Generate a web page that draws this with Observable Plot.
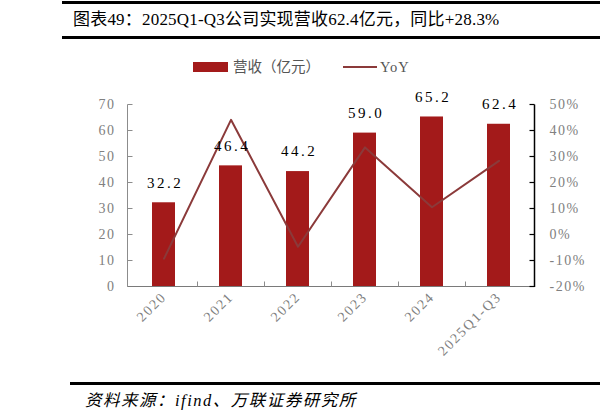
<!DOCTYPE html>
<html><head><meta charset="utf-8">
<script src="https://cdn.jsdelivr.net/npm/d3@7"></script>
<script src="https://cdn.jsdelivr.net/npm/@observablehq/plot@0.6"></script>
<style>
body{margin:0;background:#fff;width:600px;height:419px;position:relative;overflow:hidden;font-family:"Liberation Serif","Noto Sans CJK SC",serif;}
.rule{position:absolute;background:#000;}
#title{position:absolute;left:73px;top:9px;font-size:17px;line-height:22px;color:#000;white-space:nowrap;letter-spacing:0.2px;}
.lg{position:absolute;}
#chart{position:absolute;left:0;top:78px;}
#caption{position:absolute;left:85px;top:391px;font-size:16.5px;line-height:20px;font-style:italic;white-space:nowrap;letter-spacing:1.5px;}
#chart svg g[aria-label="text"] text{letter-spacing:2.5px;}
#chart svg g[aria-label="y-axis tick label"] text{letter-spacing:1.5px;}
#chart svg g[aria-label="x-axis tick label"] text{letter-spacing:1.8px;}
</style></head>
<body>
<div class="rule" style="left:62px;top:1px;width:538px;height:3px;"></div>
<div id="title">图表49：2025Q1-Q3公司实现营收62.4亿元，同比+28.3%</div>
<div class="rule" style="left:62px;top:36px;width:538px;height:2.5px;"></div>
<div class="lg" id="lgBar" style="left:193px;top:62px;width:35px;height:10px;background:#A31A1A;"></div>
<div class="lg" id="lgBarText" style="left:233px;top:57px;font-size:14.5px;line-height:20px;color:#555;white-space:nowrap;"></div>
<div class="lg" id="lgLine" style="left:343px;top:66px;width:34px;height:2px;background:#8B3A3A;"></div>
<div class="lg" id="lgLineText" style="left:380px;top:57px;font-size:14.5px;line-height:20px;color:#555;letter-spacing:1px;"></div>
<div id="chart"></div>
<div class="rule" style="left:70px;top:382px;width:530px;height:2.5px;"></div>
<div id="caption">资料来源：ifind、万联证券研究所</div>
<script>
const categories = ["2020","2021","2022","2023","2024","2025Q1-Q3"];
const revenue = [32.2, 46.4, 44.2, 59.0, 65.2, 62.4];
const yoy = [-9.3, 44.1, -4.7, 33.5, 10.5, 28.3];
const leftTicks = [0,10,20,30,40,50,60,70];
const rightTicks = [-20,-10,0,10,20,30,40,50];
const seriesNames = ["营收（亿元）","YoY"];
const rightOffset = 20; // right axis -20% aligns with left 0

document.getElementById("lgBarText").textContent = seriesNames[0];
document.getElementById("lgLineText").textContent = seriesNames[1];

const data = categories.map((c,i)=>({cat:c, rev:revenue[i], yoy:yoy[i]}));

function frame(index, scales, values, dims){
  const {x, y} = scales;
  const g = d3.create("svg:g");
  const L = Math.round(dims.marginLeft)+0.5;
  const R = Math.round(dims.width - dims.marginRight)+0.5;
  const y0 = Math.round(y(0))+0.5, yT = Math.round(y(70))+0.5;
  g.append("line").attr("x1",L).attr("x2",L).attr("y1",yT).attr("y2",y0).attr("stroke","#8c8c8c");
  for(const t of leftTicks){
    const yy = Math.round(y(t))+0.5;
    g.append("line").attr("x1",L).attr("x2",L+5).attr("y1",yy).attr("y2",yy).attr("stroke","#8c8c8c");
  }
  g.append("line").attr("x1",L).attr("x2",R).attr("y1",y0).attr("y2",y0).attr("stroke","#7a7a7a");
  for(const c of categories.slice(1)){
    const xx = Math.round(x(c))+0.5;
    g.append("line").attr("x1",xx).attr("x2",xx).attr("y1",y0).attr("y2",y0-5).attr("stroke","#8c8c8c");
  }
  g.append("line").attr("x1",R).attr("x2",R).attr("y1",yT).attr("y2",y0+0.5).attr("stroke","#000").attr("stroke-width",1.5);
  for(const t of rightTicks){
    const yy = Math.round(y(t+rightOffset))+0.5;
    g.append("line").attr("x1",R).attr("x2",R-5).attr("y1",yy).attr("y2",yy).attr("stroke","#000").attr("stroke-width",1.2);
  }
  return g.node();
}

const plot = Plot.plot({
  width: 600,
  height: 305,
  marginTop: 26,
  marginBottom: 97,
  marginLeft: 127,
  marginRight: 66,
  style: "font-family:'Liberation Serif','Noto Sans CJK SC',serif;font-size:14px;background:#fff;overflow:visible;",
  x: {domain: categories, padding: 0, label: null},
  y: {domain: [0, 70], label: null},
  marks: [
    Plot.barY(data, {x:"cat", y:"rev", fill:"#A31A1A", insetLeft:22, insetRight:22}),
    Plot.line(data, {x:"cat", y: d => d.yoy + rightOffset, stroke:"#8B3A3A", strokeWidth:2}),
    Plot.text(data, {x:"cat", y:"rev", text: d => d.rev.toFixed(1), dy:-20, dx:1, fontSize:15, fill:"#000"}),
    frame,
    Plot.axisY({anchor:"left", ticks: leftTicks, tickSize:0, tickPadding:12, fill:"#808080", tickFormat: d => d, label:null}),
    Plot.axisY({anchor:"right", ticks: rightTicks.map(t=>t+rightOffset), tickSize:0, tickPadding:15, fill:"#808080", tickFormat: d => (d - rightOffset) + "%", label:null}),
    Plot.axisX({anchor:"bottom", tickSize:0, tickPadding:8, tickRotate:-45, fill:"#808080", label:null})
  ]
});
document.getElementById("chart").appendChild(plot);
</script>
</body></html>
